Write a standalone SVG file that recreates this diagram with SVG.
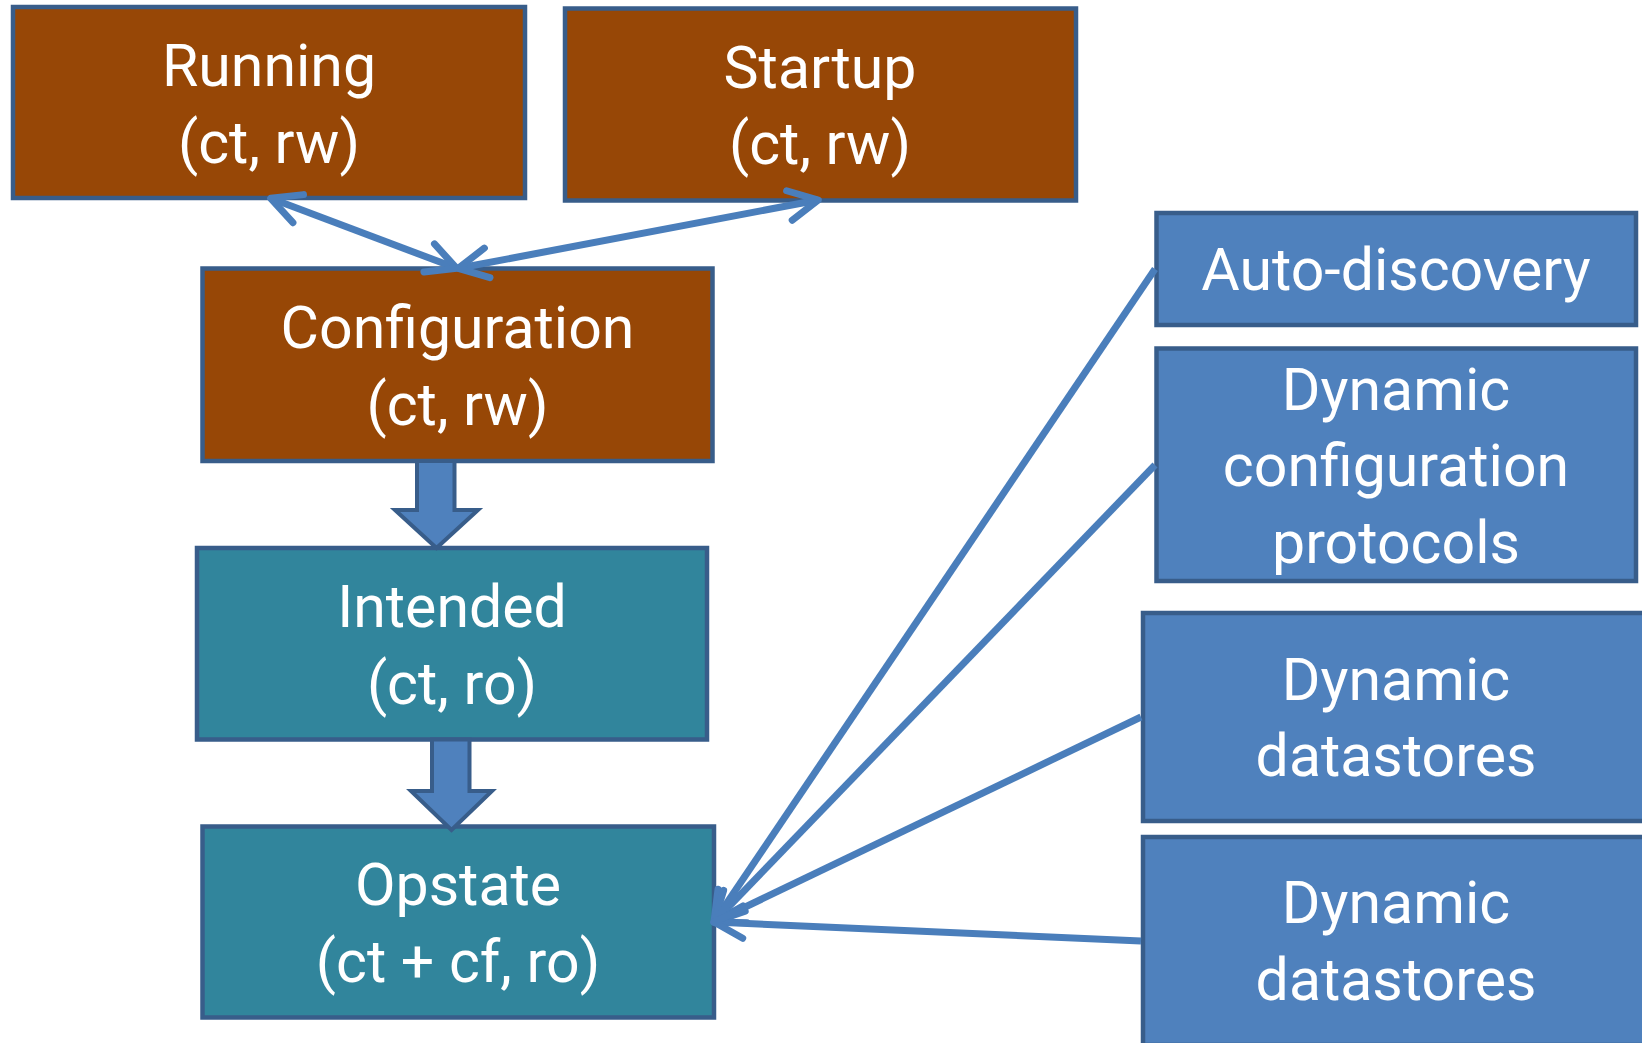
<svg xmlns="http://www.w3.org/2000/svg" width="1642" height="1043" viewBox="0 0 1642 1043">
<style>
  .box { stroke: #385D8A; stroke-width: 4.5; }
  .brown { fill: #974706; }
  .teal { fill: #31859C; }
  .blue { fill: #4F81BD; }
  .lbl { font-family: Roboto, "Open Sans", "Liberation Sans", sans-serif; font-size: 59px; fill: #FFFFFF; text-anchor: middle; }
  .conn { stroke: #4A7EBB; stroke-width: 7; fill: none; stroke-linecap: butt; }
  .block { fill: #4F81BD; stroke: #385D8A; stroke-width: 4; stroke-linejoin: miter; }
</style>
<defs>
  <marker id="arrow" markerUnits="userSpaceOnUse" viewBox="-40 -20 50 40" markerWidth="50" markerHeight="40" refX="0" refY="0" orient="auto-start-reverse" overflow="visible">
    <path d="M -29.4 -15 L 0 0 L -29.4 15" fill="none" stroke="#4A7EBB" stroke-width="7" stroke-linecap="round" stroke-linejoin="round"/>
  </marker>
</defs>
<rect width="1642" height="1043" fill="#FFFFFF"/>

<g id="running">
  <rect class="box brown" x="13" y="7" width="512" height="191"/>
  <text class="lbl" x="269" y="86">Running</text>
  <text class="lbl" x="269" y="163">(ct, rw)</text>
</g>
<g id="startup">
  <rect class="box brown" x="565" y="8.5" width="511" height="192"/>
  <text class="lbl" x="820" y="87.5">Startup</text>
  <text class="lbl" x="820" y="164">(ct, rw)</text>
</g>
<g id="configuration">
  <rect class="box brown" x="202.5" y="268.5" width="510" height="192.5"/>
  <text class="lbl" x="457.5" y="347.5">Configuration</text>
  <text class="lbl" x="457.5" y="425">(ct, rw)</text>
</g>
<g id="intended">
  <rect class="box teal" x="197" y="548" width="510" height="191.5"/>
  <text class="lbl" x="452" y="627">Intended</text>
  <text class="lbl" x="452" y="703.5">(ct, ro)</text>
</g>
<g id="opstate">
  <rect class="box teal" x="202.5" y="826.5" width="511.5" height="191"/>
  <text class="lbl" x="458" y="904.5">Opstate</text>
  <text class="lbl" x="458" y="981.5">(ct + cf, ro)</text>
</g>
<g id="auto-discovery">
  <rect class="box blue" x="1156.5" y="213" width="479.5" height="112"/>
  <text class="lbl" x="1396" y="290">Auto-discovery</text>
</g>
<g id="dynamic-config-protocols">
  <rect class="box blue" x="1156.5" y="348.5" width="479.5" height="232.5"/>
  <text class="lbl" x="1396" y="409.5">Dynamic</text>
  <text class="lbl" x="1396" y="486">configuration</text>
  <text class="lbl" x="1396" y="562.5">protocols</text>
</g>
<g id="dynamic-datastores-1">
  <rect class="box blue" x="1143" y="613" width="510" height="208"/>
  <text class="lbl" x="1396" y="699.5">Dynamic</text>
  <text class="lbl" x="1396" y="776">datastores</text>
</g>
<g id="dynamic-datastores-2">
  <rect class="box blue" x="1143" y="837" width="510" height="208"/>
  <text class="lbl" x="1396" y="922.5">Dynamic</text>
  <text class="lbl" x="1396" y="999.5">datastores</text>
</g>

<g id="connectors">
  <line class="conn" x1="270.7" y1="198.3" x2="456.7" y2="268.3" marker-start="url(#arrow)" marker-end="url(#arrow)"/>
  <line class="conn" x1="818.3" y1="200" x2="458.3" y2="268.3" marker-start="url(#arrow)" marker-end="url(#arrow)"/>
  <polygon class="block" points="417,461 454.5,461 454.5,510 478,510 436.5,548 395,510 417,510"/>
  <polygon class="block" points="432,739.5 469.5,739.5 469.5,791 492,791 451.5,830 411,791 432,791"/>
  <line class="conn" x1="1155" y1="269" x2="714" y2="922" marker-end="url(#arrow)"/>
  <line class="conn" x1="1155" y1="465" x2="714" y2="922" marker-end="url(#arrow)"/>
  <line class="conn" x1="1141" y1="717" x2="714" y2="922" marker-end="url(#arrow)"/>
  <line class="conn" x1="1141" y1="941" x2="714" y2="922" marker-end="url(#arrow)"/>
</g>
</svg>
